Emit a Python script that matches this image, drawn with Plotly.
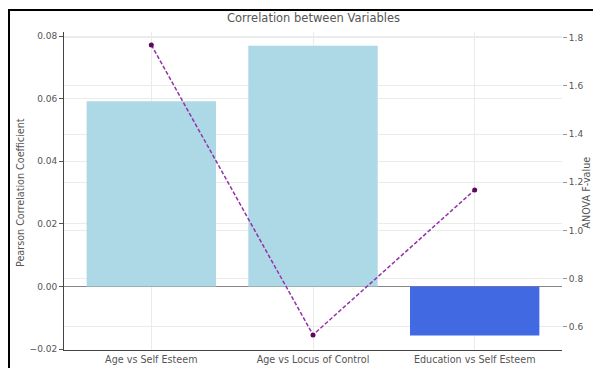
import plotly.graph_objects as go

categories = ["Age vs Self Esteem", "Age vs Locus of Control", "Education vs Self Esteem"]
pearson_r = [0.0592, 0.0769, -0.0157]
anova_f = [1.770, 0.566, 1.168]
bar_colors = ["#ADD8E6", "#ADD8E6", "#4169E1"]
left_ticks = [-0.02, 0.00, 0.02, 0.04, 0.06, 0.08]
right_ticks = [0.6, 0.8, 1.0, 1.2, 1.4, 1.6, 1.8]

W, H = 593, 368
L, R, T, B = 64, 31, 32, 18
pw, ph = W - L - R, H - T - B

def px(x):
    return (x - L) / pw

def py(y):
    return (H - B - y) / ph

font = dict(family="DejaVu Sans", size=9, color="#555555")
xfont = dict(family="DejaVu Sans", size=9.6, color="#555555")
lblfont = dict(family="DejaVu Sans", size=9.6, color="#555555")

fig = go.Figure()
fig.add_trace(go.Bar(x=categories, y=pearson_r, marker=dict(color=bar_colors, line=dict(width=0)),
                     width=0.8, yaxis="y", showlegend=False))
fig.add_trace(go.Scatter(x=categories, y=anova_f, mode="lines+markers", yaxis="y2",
                         line=dict(color="#9433A8", dash="4px,2px", width=1.5),
                         marker=dict(color="#5A0A5A", size=5), showlegend=False))

fig.update_layout(
    width=W, height=H,
    margin=dict(l=L, r=R, t=T, b=B, pad=0, autoexpand=False),
    paper_bgcolor="white", plot_bgcolor="white",
    font=font,
    bargap=0.2,
    xaxis=dict(type="category", range=[-0.54, 2.54], showgrid=True, gridcolor="#EBEBEB",
               gridwidth=1, showline=True, linecolor="#444444", linewidth=1,
               ticks="", tickfont=xfont, zeroline=False, automargin=False),
    yaxis=dict(range=[-0.0203, 0.0813], tickvals=left_ticks, tickformat=".2f",
               showgrid=True, gridcolor="#EBEBEB", showline=True, linecolor="#444444",
               linewidth=1, ticks="outside", ticklen=4, tickcolor="#555555",
               zeroline=True, zerolinecolor="#888888", zerolinewidth=1, tickfont=font,
               automargin=False),
    yaxis2=dict(range=[0.5032, 1.8237], tickvals=right_ticks, tickformat=".1f", overlaying="y",
                side="right", showgrid=True, gridcolor="#EBEBEB", showline=False,
                ticks="outside", ticklen=4, tickcolor="#999999", zeroline=False, tickfont=font,
                automargin=False),
    annotations=[
        dict(text="Correlation between Variables", x=px(313), y=py(18), xref="paper", yref="paper",
             xanchor="center", yanchor="middle",
             showarrow=False, font=dict(family="DejaVu Sans", size=11.5, color="#555555")),
        dict(text="Pearson Correlation Coefficient", x=px(20), y=py(193), xref="paper", yref="paper",
             xanchor="center", yanchor="middle",
             showarrow=False, textangle=-90, font=lblfont),
        dict(text="ANOVA F-value", x=px(585.5), y=py(193), xref="paper", yref="paper",
             xanchor="center", yanchor="middle",
             showarrow=False, textangle=-90, font=lblfont),
    ],
    shapes=[
        dict(type="line", xref="paper", yref="paper", x0=px(8), x1=px(600), y0=py(10), y1=py(10),
             line=dict(color="black", width=2)),
        dict(type="line", xref="paper", yref="paper", x0=px(9), x1=px(9), y0=py(9), y1=py(380),
             line=dict(color="black", width=2)),
    ],
)

fig.write_html("out.html", config={"displayModeBar": False},
               post_script="document.body.style.margin='0';document.body.style.overflow='hidden';")
